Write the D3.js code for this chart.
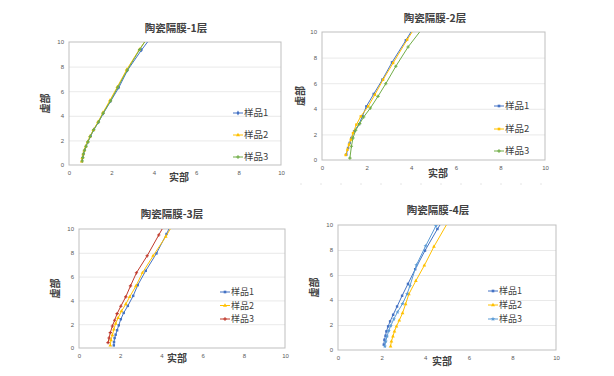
<!DOCTYPE html>
<html>
<head>
<meta charset="utf-8">
<script src="https://cdn.jsdelivr.net/npm/d3@7"></script>
<style>
  body { margin: 0; background: #fff; }
  svg { display: block; font-family: "Noto Sans CJK SC", "Noto Sans", sans-serif; }
</style>
</head>
<body>
<svg id="chart" width="614" height="376"></svg>
<script>
// ticks shared by every panel
const xTicks = [0, 2, 4, 6, 8, 10];
const yTicks = [0, 2, 4, 6, 8, 10];
const seriesNames = ['样品1', '样品2', '样品3'];
const titles = ['陶瓷隔膜-1层', '陶瓷隔膜-2层', '陶瓷隔膜-3层', '陶瓷隔膜-4层'];

// [实部, 虚部]
const p1s1 = [[0.62,0.35],[0.65,0.62],[0.69,0.92],[0.74,1.22],[0.81,1.55],[0.9,1.9],[1.02,2.35],[1.18,2.88],[1.4,3.5],[1.62,4.2],[1.97,5.2],[2.35,6.3],[2.76,7.7],[3.42,9.35],[4.1,10.9]];
const p1s2 = [[0.6,0.3],[0.63,0.58],[0.67,0.88],[0.72,1.18],[0.79,1.52],[0.88,1.88],[0.99,2.32],[1.15,2.86],[1.37,3.5],[1.6,4.25],[1.93,5.25],[2.28,6.35],[2.72,7.75],[3.32,9.4],[3.85,10.7]];
const p1s3 = [[0.62,0.32],[0.65,0.6],[0.68,0.9],[0.73,1.2],[0.8,1.52],[0.89,1.88],[1.0,2.32],[1.16,2.86],[1.39,3.5],[1.61,4.22],[1.96,5.22],[2.3,6.32],[2.75,7.72],[3.33,9.38],[3.8,10.6]];

const p2s1 = [[1.09,0.42],[1.17,0.94],[1.24,1.33],[1.32,1.72],[1.44,2.24],[1.66,2.8],[1.81,3.41],[1.99,4.19],[2.32,5.16],[2.71,6.28],[3.14,7.63],[3.76,9.35],[4.2,10.6]];
const p2s2 = [[1.06,0.39],[1.14,0.8],[1.21,1.2],[1.29,1.59],[1.39,2.1],[1.54,2.76],[1.74,3.41],[2.07,4.19],[2.37,5.1],[2.74,6.28],[3.19,7.58],[3.82,9.4],[4.3,10.7]];
const p2s3 = [[1.25,0.15],[1.32,1.07],[1.39,1.72],[1.51,2.32],[1.69,2.84],[1.87,3.36],[2.17,4.06],[2.51,4.97],[2.86,5.96],[3.31,7.32],[3.86,8.83],[4.6,10.5]];

const p3s1 = [[1.69,0.22],[1.7,0.5],[1.73,0.84],[1.78,1.12],[1.85,1.49],[1.93,1.91],[2.03,2.42],[2.17,2.95],[2.37,3.54],[2.63,4.38],[2.85,5.28],[3.24,6.49],[3.76,7.95],[4.25,9.58],[4.5,10.5]];
const p3s2 = [[1.52,0.22],[1.55,0.65],[1.62,1.07],[1.69,1.57],[1.78,2.05],[1.9,2.53],[2.06,3.09],[2.27,3.68],[2.46,4.3],[2.76,5.2],[3.08,6.32],[3.6,7.75],[4.21,9.35],[4.6,10.5]];
const p3s3 = [[1.41,0.45],[1.46,0.84],[1.52,1.29],[1.62,1.85],[1.73,2.33],[1.85,2.89],[2.03,3.51],[2.27,4.3],[2.5,5.22],[2.79,6.32],[3.31,7.75],[3.87,9.49],[4.2,10.5]];

const p4s1 = [[2.1,0.43],[2.13,0.82],[2.18,1.14],[2.22,1.49],[2.3,1.89],[2.39,2.29],[2.53,2.82],[2.71,3.48],[2.94,4.34],[3.21,5.29],[3.54,6.46],[3.99,7.95],[4.56,9.68],[4.9,10.6]];
const p4s2 = [[2.41,0.29],[2.45,0.69],[2.52,1.09],[2.59,1.49],[2.68,1.89],[2.81,2.37],[2.96,2.95],[3.1,3.67],[3.25,4.47],[3.57,5.53],[3.96,6.76],[4.4,8.27],[5.2,10.7]];
const p4s3 = [[2.15,0.29],[2.19,0.69],[2.25,1.09],[2.33,1.54],[2.42,1.94],[2.56,2.47],[2.73,3.03],[2.96,3.7],[3.17,4.49],[3.3,5.13],[3.6,6.81],[4.02,8.32],[4.49,9.92],[4.7,10.6]];

const svg = d3.select('#chart');

const panels = [
  { title: titles[0], box: { l: 69, r: 281, t: 42, b: 165 }, titleX: 176, titleY: 32, xTitleX: 179, xTitleY: 181, yTitleX: 49,
    data: [p1s1, p1s2, p1s3], colors: ['#4472C4', '#FFC000', '#70AD47'], shapes: [d3.symbolDiamond, d3.symbolTriangle, d3.symbolCross],
    legend: { x: 233, ys: [113, 135, 157], size: 9.5 } },
  { title: titles[1], box: { l: 322, r: 545, t: 32, b: 160 }, titleX: 435, titleY: 22, xTitleX: 438, xTitleY: 177, yTitleX: 304,
    data: [p2s1, p2s2, p2s3], colors: ['#4472C4', '#FFC000', '#70AD47'], shapes: [d3.symbolSquare, d3.symbolSquare, d3.symbolCross],
    legend: { x: 494, ys: [106, 129, 151], size: 9.5 } },
  { title: titles[2], box: { l: 79, r: 285, t: 229, b: 348 }, titleX: 172, titleY: 218, xTitleX: 177, xTitleY: 362, yTitleX: 59,
    data: [p3s1, p3s2, p3s3], colors: ['#4472C4', '#FFC000', '#C0392B'], shapes: [d3.symbolSquare, d3.symbolTriangle, d3.symbolCross],
    legend: { x: 220, ys: [292, 305.5, 319], size: 9 } },
  { title: titles[3], box: { l: 338, r: 556, t: 225, b: 350 }, titleX: 438, titleY: 214, xTitleX: 442, xTitleY: 365, yTitleX: 318,
    data: [p4s1, p4s2, p4s3], colors: ['#4472C4', '#FFC000', '#5B9BD5'], shapes: [d3.symbolSquare, d3.symbolTriangle, d3.symbolStar],
    legend: { x: 488, ys: [291, 305, 319], size: 9 } }
];

panels.forEach((p, pi) => {
  const { l, r, t, b } = p.box;
  const x = d3.scaleLinear().domain([0, 10]).range([l, r]);
  const y = d3.scaleLinear().domain([0, 10]).range([b, t]);
  const g = svg.append('g');

  // horizontal gridlines
  g.append('g')
    .attr('transform', `translate(${l},0)`)
    .call(d3.axisLeft(y).tickValues(yTicks.slice(1, -1)).tickSize(-(r - l)).tickFormat(''))
    .call(a => a.select('.domain').remove())
    .selectAll('line').attr('stroke', '#e3e3e3').attr('stroke-width', 0.8);

  // frame
  g.append('rect')
    .attr('x', l).attr('y', t).attr('width', r - l).attr('height', b - t)
    .attr('fill', 'none').attr('stroke', '#bfbfbf').attr('stroke-width', 1);

  // axes labels
  g.append('g')
    .attr('transform', `translate(0,${b})`)
    .call(d3.axisBottom(x).tickValues(xTicks).tickSize(0).tickPadding(6))
    .call(a => a.select('.domain').remove())
    .selectAll('text').attr('fill', '#595959').style('font-size', '6px').style('font-family', 'Liberation Sans, sans-serif');

  g.append('g')
    .attr('transform', `translate(${l},0)`)
    .call(d3.axisLeft(y).tickValues(yTicks).tickSize(0).tickPadding(5))
    .call(a => a.select('.domain').remove())
    .selectAll('text').attr('fill', '#595959').style('font-size', '6px').style('font-family', 'Liberation Sans, sans-serif');

  // clip to plot area
  const clipId = 'clip' + pi;
  svg.append('clipPath').attr('id', clipId)
    .append('rect').attr('x', l).attr('y', t).attr('width', r - l).attr('height', b - t);

  const plot = g.append('g').attr('clip-path', `url(#${clipId})`);
  const line = d3.line().x(d => x(d[0])).y(d => y(d[1]));

  p.data.forEach((series, si) => {
    plot.append('path')
      .datum(series)
      .attr('fill', 'none')
      .attr('stroke', p.colors[si])
      .attr('stroke-width', 1)
      .attr('d', line);

    plot.selectAll('.m' + si)
      .data(series)
      .enter()
      .append('path')
      .attr('class', 'm' + si)
      .attr('transform', d => `translate(${x(d[0])},${y(d[1])})`)
      .attr('d', d3.symbol().type(p.shapes[si]).size(6))
      .attr('fill', p.colors[si]);
  });

  // legend
  seriesNames.forEach((name, si) => {
    const ly = p.legend.ys[si];
    const lg = g.append('g').attr('transform', `translate(${p.legend.x},${ly})`);
    lg.append('line').attr('x1', 0).attr('x2', 10).attr('y1', 0).attr('y2', 0)
      .attr('stroke', p.colors[si]).attr('stroke-width', 1);
    lg.append('path').attr('transform', 'translate(5,0)')
      .attr('d', d3.symbol().type(p.shapes[si]).size(7)).attr('fill', p.colors[si]);
    lg.append('text').attr('x', 11).attr('y', 3.3)
      .style('font-size', p.legend.size + 'px').attr('fill', '#404040').text(name);
  });

  // titles
  g.append('text').attr('x', p.titleX).attr('y', p.titleY).attr('text-anchor', 'middle')
    .style('font-size', '10.5px').style('font-weight', 'bold').attr('fill', '#404040').text(p.title);
  g.append('text').attr('x', p.xTitleX).attr('y', p.xTitleY).attr('text-anchor', 'middle')
    .style('font-size', '10px').style('font-weight', 'bold').attr('fill', '#404040').text('实部');
  g.append('text')
    .attr('transform', `translate(${p.yTitleX},${(t + b) / 2}) rotate(-90)`)
    .attr('text-anchor', 'middle')
    .style('font-size', '10px').style('font-weight', 'bold').attr('fill', '#404040').text('虚部');
});

// faint dotted separator under the second panel
svg.append('line').attr('x1', 300).attr('x2', 555).attr('y1', 184).attr('y2', 184)
  .attr('stroke', '#e6e6e6').attr('stroke-dasharray', '2,18');
</script>
</body>
</html>
